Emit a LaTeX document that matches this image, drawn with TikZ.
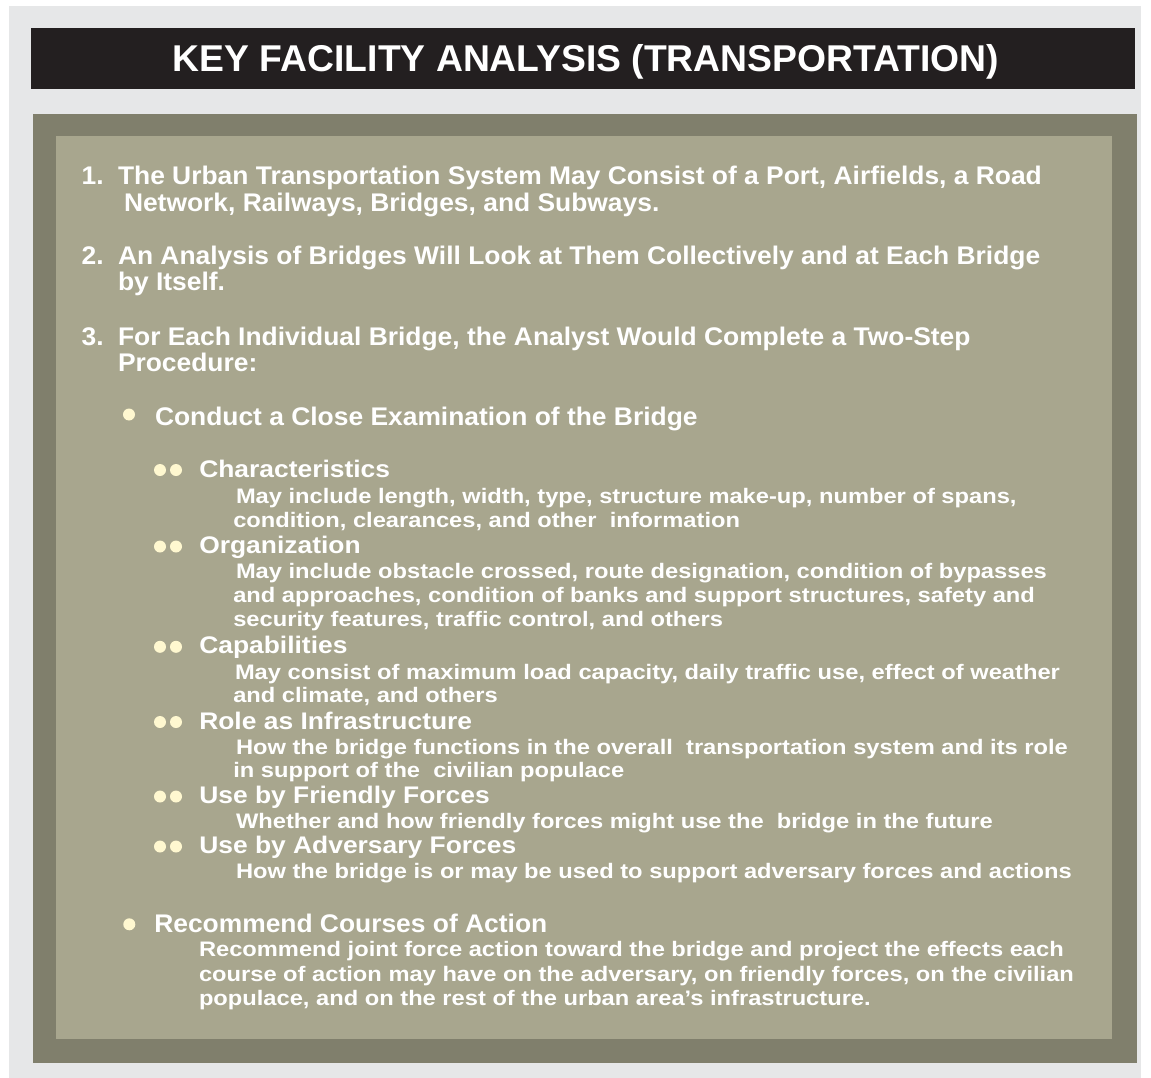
\documentclass[tikz,border=0pt]{standalone}
\usepackage{fontspec}
\setmainfont{Liberation Sans}
\newfontfamily\mainf[FakeStretch=1.035]{Liberation Sans}
\newfontfamily\headf[FakeStretch=1.10]{Liberation Sans}
\newfontfamily\descf[FakeStretch=1.128]{Liberation Sans}
\definecolor{bggray}{RGB}{230,231,232}
\definecolor{titleblack}{RGB}{35,31,32}
\definecolor{framegray}{RGB}{128,127,108}
\definecolor{panelgray}{RGB}{168,166,142}
\definecolor{cream}{RGB}{255,248,208}
\tikzset{
  txt/.style={anchor=base west, inner sep=0pt, outer sep=0pt, text=white},
  mainline/.style={txt, font=\mainf\bfseries\fontsize{25.5}{26}\selectfont},
  headline/.style={txt, font=\headf\bfseries\fontsize{24}{25}\selectfont},
  descline/.style={txt, font=\descf\bfseries\fontsize{21}{22}\selectfont},
  bigdot/.style={circle, fill=cream, inner sep=0pt, minimum size=12pt},
  smalldot/.style={circle, fill=cream, inner sep=0pt, minimum size=12pt},
}
\begin{document}
\begin{tikzpicture}[x=1pt,y=-1pt]
\useasboundingbox (0,0) rectangle (1151,1078);
\fill[white] (0,0) rectangle (1151,1078);
\fill[bggray] (9,6) rectangle (1141,1078);
\node[fill=titleblack, minimum width=1104pt, minimum height=61pt, inner sep=0pt] (titlebar) at (583,58.5) {};
\node[anchor=base, inner sep=0pt, text=white, font=\bfseries\fontsize{37.3}{38}\selectfont] (titletext) at (586,71.7) {KEY FACILITY ANALYSIS (TRANSPORTATION)};
\fill[framegray] (33,114) rectangle (1137,1063);
\fill[panelgray] (56,136) rectangle (1112,1039);

% numbered items
\node[mainline] (n1) at (81.7,185) {1.};
\node[mainline] (l1a) at (118,185) {The Urban Transportation System May Consist of a Port, Airfields, a Road};
\node[mainline] (l1b) at (124,211.7) {Network, Railways, Bridges, and Subways.};
\node[mainline] (n2) at (81.7,264) {2.};
\node[mainline] (l2a) at (118,264) {An Analysis of Bridges Will Look at Them Collectively and at Each Bridge};
\node[mainline] (l2b) at (118,290) {by Itself.};
\node[mainline] (n3) at (81.7,345) {3.};
\node[mainline] (l3a) at (118,345) {For Each Individual Bridge, the Analyst Would Complete a Two-Step};
\node[mainline] (l3b) at (118,371.7) {Procedure:};

% first bullet
\node[bigdot] (b1) at (129,414.5) {};
\node[mainline] (c1) at (155,425) {Conduct a Close Examination of the Bridge};

\node[smalldot] (d1a) at (160,470) {};
\node[smalldot] (d1b) at (176,470) {};
\node[headline] (h1) at (199.3,477.3) {Characteristics};
\node[descline] (h1a) at (236,503.3) {May include length, width, type, structure make-up, number of spans,};
\node[descline] (h1b) at (233.3,527.5) {condition, clearances, and other\ \ information};

\node[smalldot] (d2a) at (160,546.5) {};
\node[smalldot] (d2b) at (176,546.5) {};
\node[headline] (h2) at (199.3,553.5) {Organization};
\node[descline] (h2a) at (236,578.3) {May include obstacle crossed, route designation, condition of bypasses};
\node[descline] (h2b) at (233.3,602.7) {and approaches, condition of banks and support structures, safety and};
\node[descline] (h2c) at (233.3,626.7) {security features, traffic control, and others};

\node[smalldot] (d3a) at (160,646.8) {};
\node[smalldot] (d3b) at (176,646.8) {};
\node[headline] (h3) at (199.3,653.3) {Capabilities};
\node[descline] (h3a) at (235,679) {May consist of maximum load capacity, daily traffic use, effect of weather};
\node[descline] (h3b) at (233.3,702.7) {and climate, and others};

\node[smalldot] (d4a) at (160,722) {};
\node[smalldot] (d4b) at (176,722) {};
\node[headline] (h4) at (199.3,729) {Role as Infrastructure};
\node[descline] (h4a) at (236,754) {How the bridge functions in the overall\ \ transportation system and its role};
\node[descline] (h4b) at (233.3,777.7) {in support of the\ \ civilian populace};

\node[smalldot] (d5a) at (160,796.5) {};
\node[smalldot] (d5b) at (176,796.5) {};
\node[headline] (h5) at (199.3,803.3) {Use by Friendly Forces};
\node[descline] (h5a) at (236,828.3) {Whether and how friendly forces might use the\ \ bridge in the future};

\node[smalldot] (d6a) at (160,846.5) {};
\node[smalldot] (d6b) at (176,846.5) {};
\node[headline] (h6) at (199.3,853.3) {Use by Adversary Forces};
\node[descline] (h6a) at (236,878.3) {How the bridge is or may be used to support adversary forces and actions};

% second bullet
\node[bigdot] (b2) at (129.3,924.3) {};
\node[mainline] (c2) at (154.3,932.7) {Recommend Courses of Action};
\node[descline] (r1) at (199,956.7) {Recommend joint force action toward the bridge and project the effects each};
\node[descline] (r2) at (199,981) {course of action may have on the adversary, on friendly forces, on the civilian};
\node[descline] (r3) at (199,1005.5) {populace, and on the rest of the urban area’s infrastructure.};
\end{tikzpicture}
\end{document}
